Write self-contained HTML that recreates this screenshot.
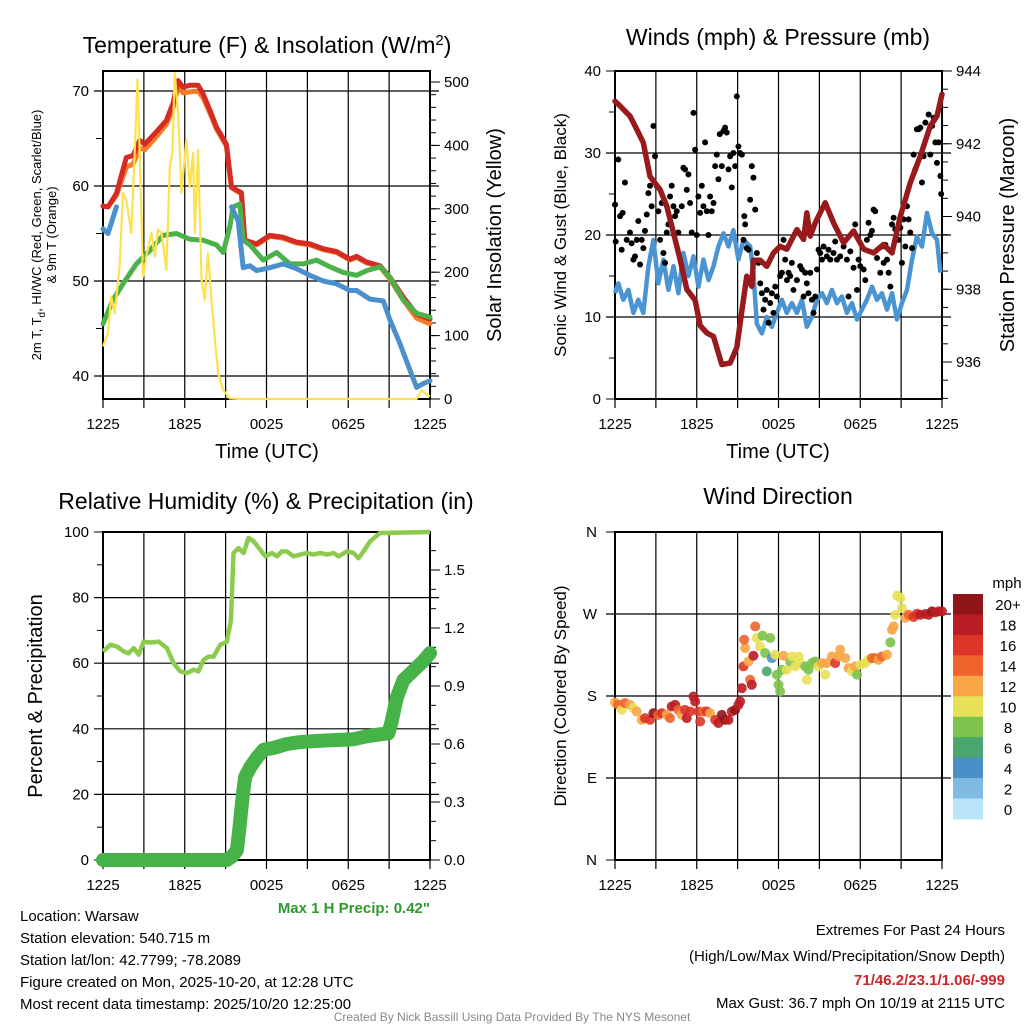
<!DOCTYPE html>
<html><head><meta charset="utf-8"><style>
html,body{margin:0;padding:0;background:#fff;}
svg{display:block;font-family:"Liberation Sans",Arial,sans-serif;}
</style></head><body>
<svg id="fig" width="1024" height="1024" viewBox="0 0 1024 1024" xmlns="http://www.w3.org/2000/svg">
<g id="layer"></g>
<text x="267" y="53" font-size="23" text-anchor="middle">Temperature (F) &amp; Insolation (W/m<tspan dy="-8" font-size="15">2</tspan><tspan dy="8">)</tspan></text>
<text x="778" y="45" font-size="23" text-anchor="middle">Winds (mph) &amp; Pressure (mb)</text>
<text x="266" y="509" font-size="23" text-anchor="middle">Relative Humidity (%) &amp; Precipitation (in)</text>
<text x="778" y="504" font-size="23" text-anchor="middle">Wind Direction</text>
<text x="267" y="458" font-size="20" text-anchor="middle">Time (UTC)</text>
<text x="778" y="458" font-size="20" text-anchor="middle">Time (UTC)</text>
<text transform="translate(41,235) rotate(-90)" font-size="13" text-anchor="middle">2m T, T<tspan dy="4" font-size="10">d</tspan><tspan dy="-4">, HI/WC (Red, Green, Scarlet/Blue)</tspan></text>
<text transform="translate(56,235) rotate(-90)" font-size="13" text-anchor="middle">&amp; 9m T (Orange)</text>
<text transform="translate(501,235) rotate(-90)" font-size="20" text-anchor="middle">Solar Insolation (Yellow)</text>
<text transform="translate(566,235) rotate(-90)" font-size="17" text-anchor="middle">Sonic Wind &amp; Gust (Blue, Black)</text>
<text transform="translate(1014,235) rotate(-90)" font-size="20" text-anchor="middle">Station Pressure (Maroon)</text>
<text transform="translate(42,696) rotate(-90)" font-size="20" text-anchor="middle">Percent &amp; Precipitation</text>
<text transform="translate(566,696) rotate(-90)" font-size="17" text-anchor="middle">Direction (Colored By Speed)</text>
<text x="430" y="913" font-size="15" font-weight="bold" fill="#2e9a2e" text-anchor="end">Max 1 H Precip: 0.42"</text>
<g font-size="15">
<text x="20" y="921">Location: Warsaw</text>
<text x="20" y="943">Station elevation: 540.715 m</text>
<text x="20" y="965">Station lat/lon: 42.7799; -78.2089</text>
<text x="20" y="987">Figure created on Mon, 2025-10-20, at 12:28 UTC</text>
<text x="20" y="1009">Most recent data timestamp: 2025/10/20 12:25:00</text>
</g>
<g font-size="15" text-anchor="end">
<text x="1005" y="935">Extremes For Past 24 Hours</text>
<text x="1005" y="961">(High/Low/Max Wind/Precipitation/Snow Depth)</text>
<text x="1005" y="985" font-weight="bold" fill="#c8262b">71/46.2/23.1/1.06/-999</text>
<text x="1005" y="1008">Max Gust: 36.7 mph On 10/19 at 2115 UTC</text>
</g>
<text x="512" y="1021" font-size="12" fill="#888" text-anchor="middle">Created By Nick Bassill Using Data Provided By The NYS Mesonet</text>
</svg>
<script>
const xTickHours=[0,6,12,18,24];
const xTickLabels=["1225","1825","0025","0625","1225"];
const redHours=[0,0.37,0.98,1.71,2.2,2.69,3.06,3.92,4.65,5.14,5.51,5.88,6.37,6.98,7.35,7.84,8.33,9.06,9.43,9.9,10.16,10.41,11.27,12.25,13.23,14.2,15.18,16.16,17.14,18.12,18.61,19.35,20.33,21.06,22.04,23.02,24];
const redTemp=[57.9,57.8,59.2,63,63.2,64.8,64.4,65.7,66.9,68.7,71.1,70.4,70.6,70.6,69.7,68,66.2,64.4,59.9,59.5,59.3,54.3,53.9,54.8,54.6,54.1,53.9,53.4,53.1,52.3,52.6,52,51.6,50.4,48.3,46.5,46];
const orangeTemp=[57.9,57.8,59,62,62.3,64,63.8,65.2,66.5,68.2,70.4,69.8,69.9,70,69.3,67.7,66,64.2,59.8,59.4,59.2,54.2,53.8,54.7,54.5,54,53.8,53.3,53,52.2,52.5,51.9,51.5,50.2,48,46.1,45.5];
const greenHours=[0,0.73,1.47,2.45,3.43,4.41,5.39,6.37,7.35,8.33,8.82,9.31,9.55,10.04,10.29,10.78,11.76,12.74,13.72,14.7,15.67,16.65,17.63,18.61,19.35,20.33,21.06,22.04,23.02,24];
const greenTemp=[45.5,48,49.7,51.8,53.2,54.8,55,54.4,54.3,53.8,53,55.7,57.8,58.1,54.3,53.8,52.2,53,51.8,51.8,52.2,51.5,50.9,50.6,51.1,51.5,50.4,48,46.6,46.2];
const blueHours=[0,0.37,0.98,null,9.43,9.92,10.29,10.78,11.27,12.25,13.23,14.2,15.18,16.16,17.14,18.12,18.61,19.59,20.57,21.06,21.8,22.53,23.02,23.51,24];
const blueTemp=[55.5,55,57.8,null,57.8,56.3,51.4,51.6,51.1,51.4,51.8,51.3,50.6,50,49.7,49,49,48.1,47.9,45.9,43.4,40.6,38.8,39.2,39.5];
const solarHours=[0,0.37,0.61,0.86,1.22,1.47,1.71,2.08,2.33,2.53,2.69,2.94,3.18,3.55,3.8,4.04,4.29,4.65,4.9,5.09,5.27,5.51,5.76,5.94,6.12,6.37,6.61,6.74,6.98,7.23,7.47,7.71,7.96,8.2,8.45,8.82,9.31,10.04,23.02,23.39,23.63,24];
const solarWm2=[83,104,162,135,209,325,314,262,388,504,388,193,225,262,225,267,262,204,367,388,514,451,325,367,409,335,388,262,393,188,156,230,156,98,41,14,1,0,0,14,9,4];
const pressHours=[0,0.37,0.73,1.1,1.59,2.08,2.57,3.31,3.8,4.29,4.78,5.27,5.88,6.25,6.74,7.23,7.84,8.45,8.94,9.31,9.67,10.04,10.16,10.65,11.14,11.63,12.12,12.61,13.35,13.84,14.08,14.33,14.7,15.43,16.04,16.78,17.51,18.25,18.98,19.71,20.33,20.94,21.67,22.41,23.14,23.63,24];
const pressMb=[943.17,943.04,942.9,942.76,942.4,942.03,941.1,940.74,940.28,939.55,938.82,938,937.7,937,936.8,936.7,935.93,935.97,936.4,937.4,938.36,938.08,938.8,938.8,938.63,939,939.18,939.1,939.64,939.37,940.1,939.46,939.83,940.38,939.83,939.28,939.6,939.1,939,939.23,939,940,940.93,941.66,942.49,942.76,943.36];
const sonicHours=[0,0.24,0.61,0.98,1.35,1.71,2.08,2.45,2.82,3.18,3.55,3.92,4.29,4.65,5.02,5.39,5.76,6.12,6.49,6.86,7.23,7.59,7.96,8.33,8.69,9.06,9.43,9.92,10.16,10.41,10.78,11.14,11.51,11.88,12.25,12.61,12.98,13.35,13.72,14.08,14.45,14.82,15.19,15.55,15.92,16.29,16.65,17.02,17.39,17.76,18.12,18.49,18.86,19.23,19.59,19.96,20.33,20.7,21.06,21.43,21.8,22.16,22.53,22.9,23.27,23.63,23.88];
const sonicMph=[12.9,14.1,12.1,13.3,10.5,12.1,10.5,16.2,19.4,14.1,17,13.3,16.2,12.9,17.8,15,17.4,13.7,17,14.5,16.2,18.6,20.2,18.6,20.6,17,19.4,18.6,15.4,9.2,8,10,8.8,10.5,12.1,10.5,11.7,10.5,12.1,8.8,10,12.1,12.9,11.7,13.3,11.7,12.5,10.5,11.7,9.7,10.9,12.1,13.7,12.1,12.9,10.9,12.9,9.7,11.7,13.3,17,19.8,18.6,22.7,20.2,19.4,15.4];
const gustHours=[0,0.05,0.24,0.37,0.49,0.56,0.73,0.86,1.1,1.22,1.35,1.47,1.6,1.71,1.84,1.96,2.08,2.2,2.33,2.45,2.57,2.69,2.82,2.94,3.06,3.18,3.31,3.43,3.55,3.67,3.8,3.92,4.04,4.16,4.29,4.41,4.53,4.65,4.9,5.02,5.14,5.27,5.39,5.51,5.63,5.76,5.88,6.0,6.12,6.25,6.37,6.49,6.61,6.74,6.86,6.98,7.1,7.23,7.35,7.47,7.59,7.69,7.84,7.96,8.08,8.2,8.33,8.45,8.57,8.69,8.82,8.94,9.06,9.18,9.31,9.43,9.49,9.55,9.67,9.8,9.92,10.04,10.16,10.29,10.41,10.53,10.66,10.78,10.9,11.02,11.14,11.27,11.39,11.51,11.63,11.76,11.88,12.12,12.25,12.37,12.49,12.62,12.74,12.86,12.98,13.1,13.35,13.59,13.72,13.84,13.96,14.08,14.2,14.33,14.45,14.57,14.7,14.82,14.94,15.06,15.19,15.31,15.55,15.67,15.8,16.04,16.16,16.29,16.53,16.78,17.02,17.14,17.27,17.51,17.63,17.76,17.88,18.0,18.25,18.37,18.49,18.61,18.74,18.86,18.98,19.1,19.23,19.47,19.59,19.72,19.84,19.96,20.08,20.21,20.33,20.45,20.57,20.82,20.94,21.06,21.18,21.31,21.43,21.55,21.67,21.8,21.92,22.04,22.16,22.29,22.41,22.53,22.65,22.78,23.02,23.14,23.27,23.39,23.51,23.63,23.76,23.88,23.94];
const gustMph=[23.7,19.2,29.2,22.3,18.2,22.7,26.4,19.4,20.3,19,17,17.4,19.4,21.7,16.4,19.4,18.4,20.5,22.5,25.1,26,23.5,33.3,29.6,26,22.9,19.4,23.9,17.8,16.6,20.3,21.3,24.7,26,23.5,22.3,22.9,20.3,23.5,28.2,28,25.5,27.4,23.9,20.3,34.9,30.4,20,24.7,22.7,26,23.5,31.3,22.9,20,24.7,22.9,23.9,28.4,29.8,26.8,32.3,28.4,32.7,33.1,32.5,28,29.6,25.8,30,28.4,36.9,30.8,30,29.8,19.4,22.3,21.3,18.4,18.2,24.3,28.4,27,23.1,17.8,16.6,14.1,12.9,10.9,12.1,13.3,9.3,11.7,12.9,10.5,13.7,12.5,15,15.4,19.4,17,14.5,15.4,15,16.6,13.3,14.5,16.2,15.8,12.5,15.4,14.1,12.9,15.4,12.1,10.5,12.5,15.8,18.2,17.8,17,18.6,17.4,18.2,17,17.8,19.2,17,17.4,18.6,17,12.5,18,16,21.3,13.3,17,16.2,15.8,14.5,19.4,21.5,20,20.5,23.1,22.9,17.2,15.4,18.6,16.6,18.8,17,15.4,13.7,21.3,22.1,20.7,19.4,20.9,16.6,21.9,18.6,23.5,21.9,20.3,18.4,29.8,28,32.9,32.9,33.1,26.4,29.6,33.7,34.7,29.8,33.3,34.3,31.3,28.8,31.3,27.2,25];
const rhHours=[0,0.54,1.03,1.52,1.88,2.25,2.62,2.98,3.47,4.08,4.69,5.18,5.67,6.16,6.65,7.0,7.38,7.75,8.12,8.6,9.09,9.39,9.58,9.95,10.32,10.68,11.05,11.54,11.91,12.4,12.77,13.13,13.5,13.99,14.48,14.96,15.45,15.94,16.43,16.92,17.29,17.9,18.39,18.75,19.12,19.61,20.34,24];
const rhPct=[63.6,65.6,65.1,63.6,63,64.6,62.6,66.6,66.3,66.6,64.6,60,57.5,57,58,57.5,61,62,62,65.6,66.6,73,93.6,95.1,93.6,98.2,97.2,94.6,92.6,93.6,92.6,94.1,94.1,92.6,93.1,93.6,93.1,93.6,93.1,93.6,92.6,94.1,93.6,92,94.1,97.2,99.7,100];
const precipHours=[0,9.09,9.46,9.83,10.02,10.15,10.27,10.44,10.81,11.3,11.78,12.52,13.5,14.47,15.45,16.92,18.39,19.37,20.34,20.95,21.2,21.56,22.05,22.79,23.52,24];
const precipIn=[0,0,0.017,0.05,0.17,0.26,0.34,0.43,0.48,0.53,0.57,0.58,0.6,0.61,0.615,0.62,0.625,0.64,0.65,0.655,0.72,0.84,0.93,0.98,1.03,1.07];
const dirHours=[0,0.24,0.49,0.73,1.1,1.35,1.59,1.96,2.2,2.57,2.82,3.18,3.43,3.8,4.04,4.16,4.41,4.65,4.9,5.14,5.27,5.51,5.76,5.88,6.12,6.25,6.49,6.74,6.98,7.35,7.59,7.84,8.08,8.33,8.57,8.82,9.06,9.18,9.31,9.43,9.55,9.48,9.8,9.92,10.04,10.16,10.29,10.41,10.65,10.83,11.02,11.14,11.39,11.51,11.76,11.88,12,12.12,12.25,12.37,12.61,12.86,12.98,13.23,13.47,13.59,13.96,14.08,14.2,14.45,14.7,14.94,15.19,15.43,15.55,15.92,16.16,16.41,16.53,16.9,17.14,17.39,17.63,17.76,18,18.37,18.61,18.86,19.1,19.35,19.59,19.96,20.21,20.33,20.45,20.57,20.7,20.94,21.06,21.31,21.55,21.92,22.16,22.41,22.78,23.02,23.27,23.51,23.76,24];
const dirDeg=[172.9,170.3,164.8,172.2,170.3,166.7,163,153.8,155.7,153.8,161.2,159.3,161.2,159.3,155.7,168.5,170.3,164.8,159.3,164.8,155.7,163,179.5,174,163,152,163,163,161.2,153.8,150.2,159.3,153.8,153.8,163,164.8,170.3,174,188.6,212.5,232.6,241.8,217.9,197.8,192.3,224.2,256.4,243.6,234.4,246.2,227.1,207,243.6,221.6,225.3,203.3,192.3,185,208.8,224.2,208.8,217.9,223.4,212.5,223.4,216.1,212.5,197.8,208.8,216.1,217.9,212.5,216.1,203.3,216.1,223.4,216.1,223.4,230.8,221.6,210.6,207,212.5,203.3,214.3,216.1,219.7,221.6,221.6,219.7,223.4,225.3,238.8,252.7,256.4,269.2,290.1,287.5,276.6,265.6,269.2,266.7,270.3,269.2,270,269.2,272.9,271.8,272.9,272.9];
const dirSpeed=[13,14,11,14,12,10,12,12,16,17,20,14,16,12,14,18,19,15,13,17,18,16,19,18,16,17,15,17,13,17,18,20,20,19,18,20,19,18,19,16,13,15,13,15,19,18,14,10,10,8,8,7,8,5,10,8,8,9,9,12,10,9,10,11,10,10,8,10,9,8,9,11,13,10,12,12,16,13,12,12,12,11,12,8,11,10,11,14,15,12,14,12,8,12,12,10,10,10,10,12,14,17,17,19,19,18,20,19,18,18];
const speedBinLabels=["0","2","4","6","8","10","12","14","16","18","20+"];
const speedBinColors=["#b9e4f9","#7fbbe4","#4a8fc6","#4aa66f","#7cc24b","#e8e056","#f7a545","#f0632b","#dc3428","#bb1d24","#8f1519"];

const NS="http://www.w3.org/2000/svg";
const layer=document.getElementById('layer');
function mk(tag,attrs,parent){const e=document.createElementNS(NS,tag);for(const k in attrs)e.setAttribute(k,attrs[k]);(parent||layer).appendChild(e);return e;}
function linScale(d0,d1,r0,r1){return v=>r0+(v-d0)*(r1-r0)/(d1-d0);}
function pathFrom(hs,vs,xs,ys){let d="",pen=false;for(let i=0;i<hs.length;i++){if(hs[i]===null||vs[i]===null){pen=false;continue;}d+=(pen?"L":"M")+xs(hs[i]).toFixed(1)+","+ys(vs[i]).toFixed(1);pen=true;}return d;}

function frame(name,L,R,T,B,xs,hLines){
  const g=mk('g',{});
  
  
  for(let h=0;h<=24;h+=3){mk('line',{x1:xs(h),x2:xs(h),y1:T-1,y2:B+9,stroke:'#000','stroke-width':1.2},g);}
  hLines.forEach(y=>mk('line',{x1:L-9,x2:R+9,y1:y,y2:y,stroke:'#000','stroke-width':1.2},g));
  mk('rect',{x:L,y:T,width:R-L,height:B-T,fill:'none',stroke:'#000','stroke-width':2},g);
  xTickHours.forEach((h,i)=>{const t=mk('text',{x:xs(h),y:B+30,'font-size':15,'text-anchor':'middle'},g);t.textContent=xTickLabels[i];
    
    });
  return g;
}
function yLabels(g,vals,ys,x,anchor,fmt){vals.forEach(v=>{const t=mk('text',{x:x,y:ys(v)+5,'font-size':15,'text-anchor':anchor},g);t.textContent=fmt?fmt(v):v;
  
  });}
function ticks(g,x,vals,ys,len){vals.forEach(v=>mk('line',{x1:x,x2:x+len,y1:ys(v),y2:ys(v),stroke:'#000','stroke-width':1},g));}

(function(){
  const L=103,R=430,T=71,B=399;
  const xs=linScale(0,24,L,R), ys=linScale(70,40,91,376), ss=linScale(0,500,399,82);
  const g=frame('temperature',L,R,T,B,xs,[70,60,50,40].map(ys));
  yLabels(g,[70,60,50,40],ys,L-14,'end');
  ticks(g,L,[65,55,45],ys,-7);
  yLabels(g,[0,100,200,300,400,500],ss,R+14,'start');
  const mn=[];for(let v=0;v<=500;v+=20)mn.push(v);ticks(g,R,mn,ss,6);ticks(g,R,[0,100,200,300,400,500],ss,10);
  const s=[['orange-9m-temp-line',redHours,orangeTemp,'#f47c22',5],['red-2m-temp-line',redHours,redTemp,'#d62a25',5],['green-dewpoint-line',greenHours,greenTemp,'#4bb14a',5],['blue-windchill-line',blueHours,blueTemp,'#4a90cc',5]];
  const y2=mk('path',{d:pathFrom(solarHours,solarWm2,xs,ss),fill:'none',stroke:'#ffe14f','stroke-width':2.2,'stroke-linejoin':'round'});
  
  
  s.forEach(a=>{const p=mk('path',{d:pathFrom(a[1],a[2],xs,ys),fill:'none',stroke:a[3],'stroke-width':a[4],'stroke-linejoin':'round','stroke-linecap':'round'});
    
    });
  layer.appendChild(y2);
})();

(function(){
  const L=615,R=942,T=71,B=399;
  const xs=linScale(0,24,L,R), ys=linScale(0,40,399,71), ps=linScale(936,944,362,71);
  const g=frame('wind',L,R,T,B,xs,[30,20,10].map(ys));
  yLabels(g,[0,10,20,30,40],ys,L-14,'end');
  ticks(g,L,[0,40],ys,-9);ticks(g,L,[5,15,25,35],ys,-6);
  yLabels(g,[936,938,940,942,944],ps,R+14,'start');
  const mn=[];for(let v=935;v<=944;v+=0.5)mn.push(v);ticks(g,R,mn,ps,6);ticks(g,R,[936,938,940,942,944],ps,10);
  const b=mk('path',{d:pathFrom(sonicHours,sonicMph,xs,ys),fill:'none',stroke:'#4a94d2','stroke-width':4.5,'stroke-linejoin':'round'});
  
  
  gustHours.forEach((h,i)=>{const c=mk('circle',{cx:xs(h),cy:ys(gustMph[i]),r:3,fill:'#000'});
    
    });
  const p=mk('path',{d:pathFrom(pressHours,pressMb,xs,ps),fill:'none',stroke:'#991a1c','stroke-width':5.5,'stroke-linejoin':'round','stroke-linecap':'round'});
  
  
})();

(function(){
  const L=103,R=430,T=532,B=860;
  const xs=linScale(0,24,L,R), ys=linScale(0,100,860,532), ps=linScale(0,1.5,860,570);
  const g=frame('humidity',L,R,T,B,xs,[80,60,40,20].map(ys));
  yLabels(g,[0,20,40,60,80,100],ys,L-14,'end');
  ticks(g,L,[0,100],ys,-9);ticks(g,L,[10,30,50,70,90],ys,-6);
  yLabels(g,[0,0.3,0.6,0.9,1.2,1.5],ps,R+14,'start',v=>v.toFixed(1));
  const mn=[];for(let v=0;v<=1.65;v+=0.1)mn.push(v);ticks(g,R,mn,ps,6);ticks(g,R,[0,0.3,0.6,0.9,1.2,1.5],ps,10);
  const r=mk('path',{d:pathFrom(rhHours,rhPct,xs,ys),fill:'none',stroke:'#8dcb4f','stroke-width':4.5,'stroke-linejoin':'round'});
  
  
  const p=mk('path',{d:pathFrom(precipHours,precipIn,xs,ps),fill:'none',stroke:'#45b347','stroke-width':14,'stroke-linejoin':'round','stroke-linecap':'round'});
  
  
})();

(function(){
  const L=615,R=942,T=532,B=860;
  const xs=linScale(0,24,L,R), ys=linScale(0,360,860,532);
  const g=frame('direction',L,R,T,B,xs,[90,180,270].map(ys));
  ticks(g,L,[0,360],ys,-9);
  const dl=["N","E","S","W","N"];[0,90,180,270,360].forEach((v,i)=>{const t=mk('text',{x:L-18,y:ys(v)+5,'font-size':15,'text-anchor':'end'},g);t.textContent=dl[i];
    
    });
  dirHours.forEach((h,i)=>{const bin=Math.max(0,Math.min(10,Math.floor(dirSpeed[i]/2)));
    const c=mk('circle',{cx:xs(h),cy:ys(dirDeg[i]),r:5,fill:speedBinColors[bin],'fill-opacity':0.9});
    
    });
  const cb=mk('g',{});
  
  
  const t0=mk('text',{x:1007,y:588,'font-size':15,'text-anchor':'middle'},cb);t0.textContent='mph';
  const h=225/11;
  speedBinColors.forEach((c,i)=>{const k=10-i;const y=594+i*h;
    const r=mk('rect',{x:953,y:y,width:30,height:h+0.5,fill:speedBinColors[k]},cb);
    
    
    const t=mk('text',{x:1008,y:y+h/2+6,'font-size':15,'text-anchor':'middle'},cb);t.textContent=speedBinLabels[k];
    
    });
})();
</script>
</body></html>
